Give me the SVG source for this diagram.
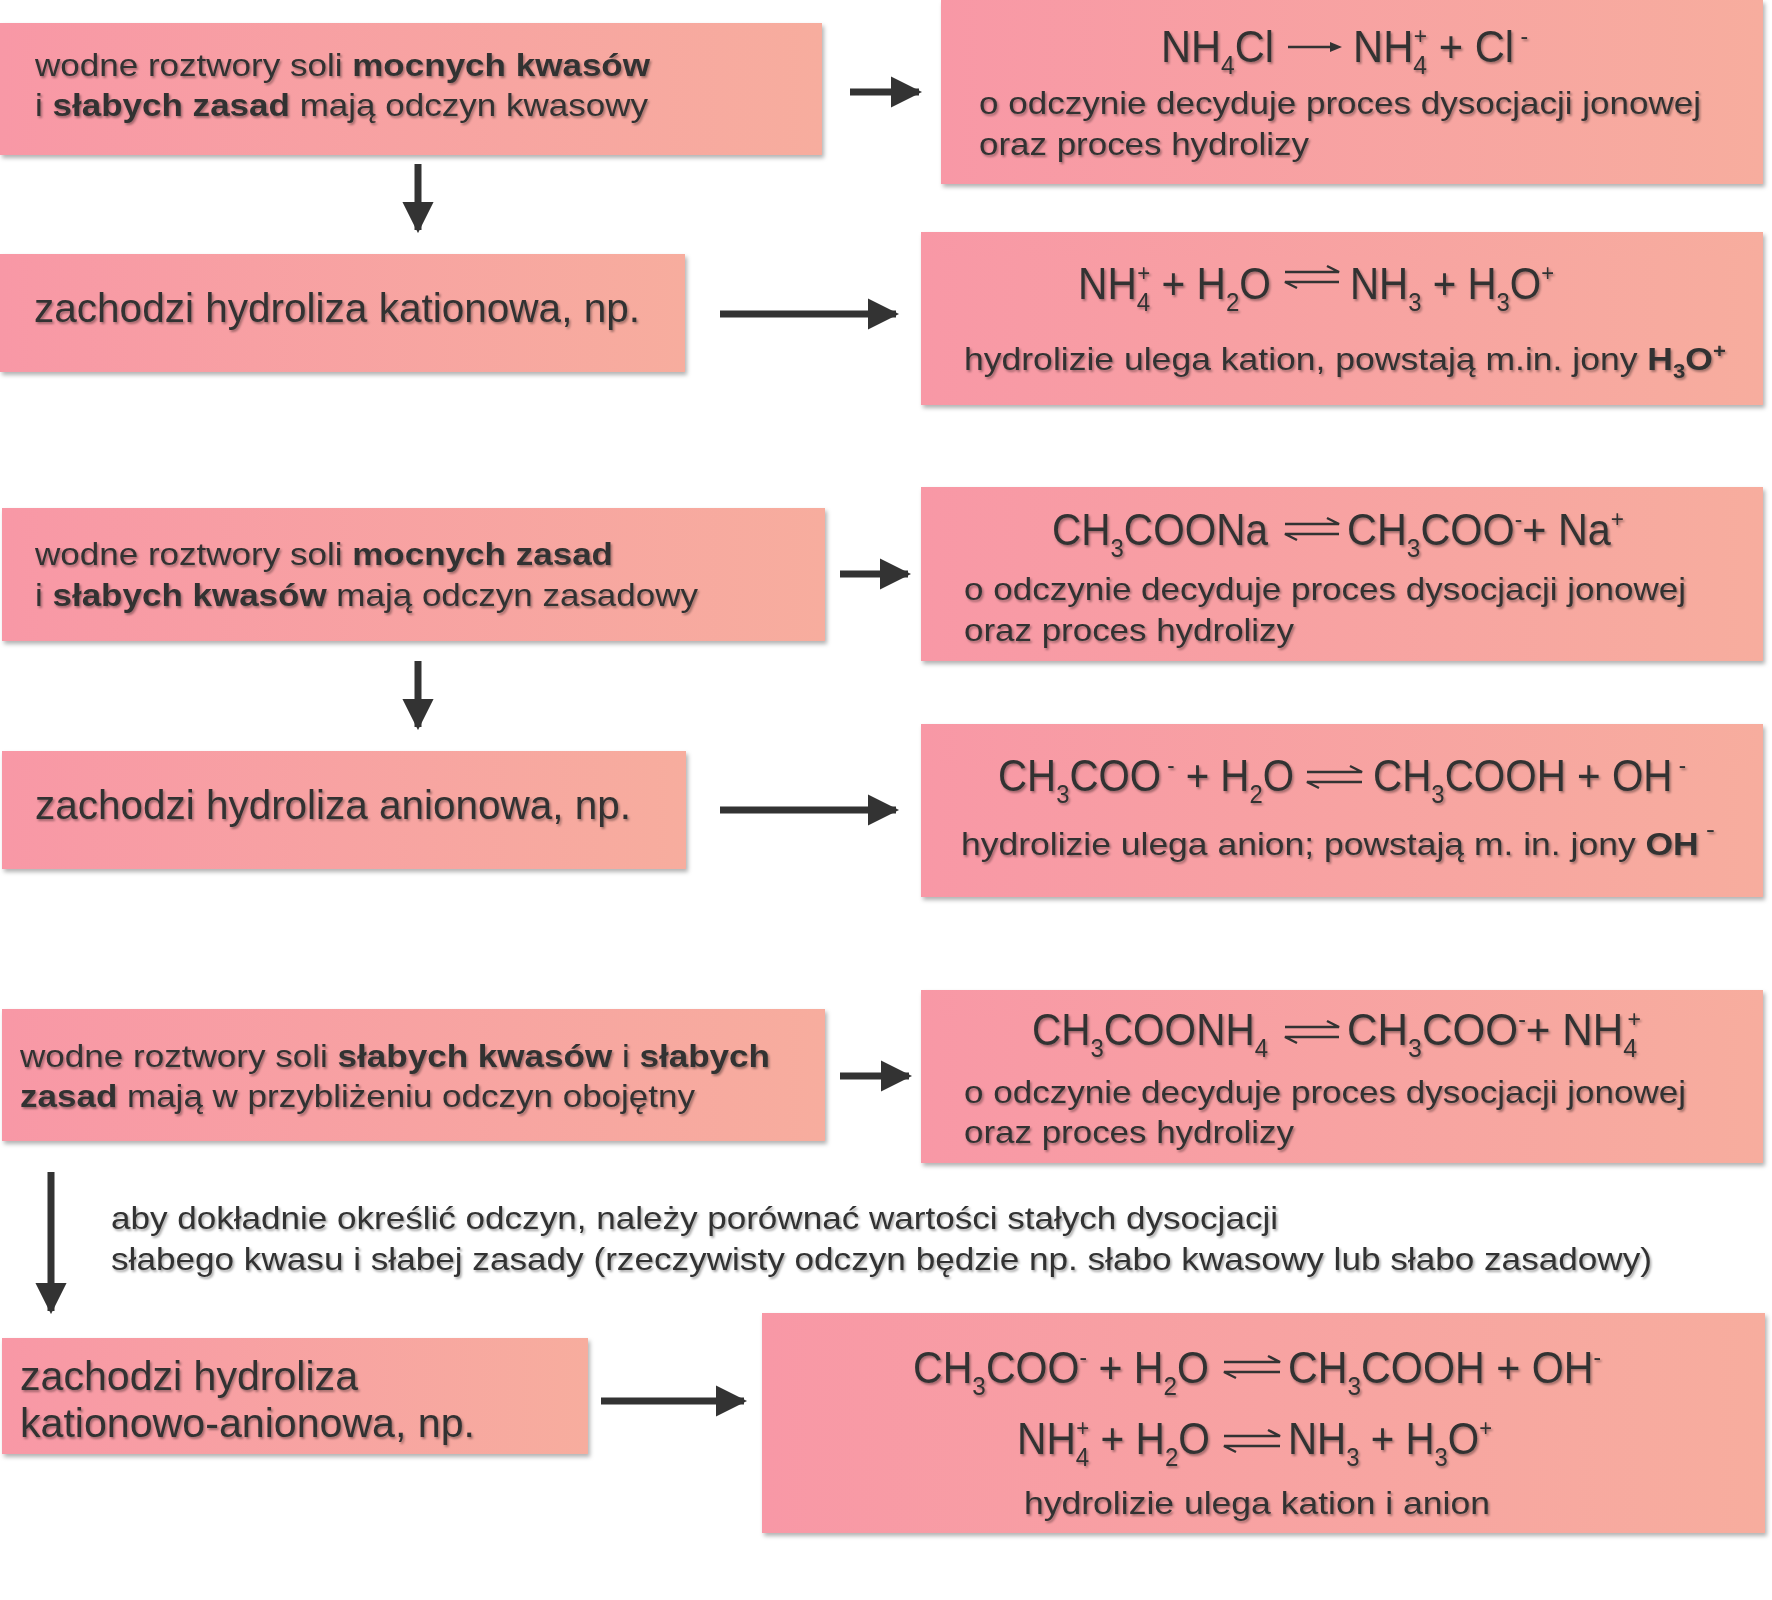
<svg xmlns="http://www.w3.org/2000/svg" width="1772" height="1600" viewBox="0 0 1772 1600">
<defs>
<linearGradient id="g" x1="0" x2="1" y1="0" y2="0"><stop offset="0" stop-color="#f898a6"/><stop offset="1" stop-color="#f7ad9e"/></linearGradient>
<filter id="sh" x="-2%" y="-5%" width="105%" height="115%"><feDropShadow dx="2" dy="3" stdDeviation="2" flood-color="#000" flood-opacity="0.3"/></filter>
<filter id="ts" x="-2%" y="-20%" width="105%" height="150%"><feDropShadow dx="1.5" dy="2" stdDeviation="1.2" flood-color="#000" flood-opacity="0.35"/></filter>
<marker id="ah" viewBox="0 0 10 10" refX="9" refY="5" markerWidth="4.5" markerHeight="5" orient="auto"><path d="M0,0 L10,5 L0,10 z" fill="#333"/></marker>
</defs>
<style>
.box{fill:url(#g);filter:url(#sh)}
text{font-family:"Liberation Sans Narrow","Liberation Sans",Arial,sans-serif;fill:#333;filter:url(#ts)}
.s{font-size:32px}.b{font-size:40px}.e{font-size:44px}
.sub{font-size:26px;baseline-shift:-12px}.sup{font-size:24px;baseline-shift:18px}
.bsub{font-size:20px;baseline-shift:-8px}.bsup{font-size:20px;baseline-shift:12px}
.bold{font-weight:bold}
.con{stroke:#333;stroke-width:7;fill:none}
.hp{stroke:#333;stroke-width:2.5;fill:none}
</style>
<g id="n1"><rect class="box" x="0" y="23" width="822" height="132"/>
<text class="s" x="35" y="76" textLength="615" lengthAdjust="spacingAndGlyphs">wodne roztwory soli <tspan class="bold">mocnych kwasów</tspan></text>
<text class="s" x="35" y="116" textLength="613" lengthAdjust="spacingAndGlyphs">i <tspan class="bold">słabych zasad</tspan> mają odczyn kwasowy</text></g>
<g id="n2"><rect class="box" x="941" y="0" width="822" height="184"/>
<text class="e" x="1161" y="62" textLength="113" lengthAdjust="spacingAndGlyphs">NH<tspan class="sub">4</tspan>Cl</text>
<path class="hp" d="M1288,47 H1334"/><path d="M1342,47 L1330,42 L1330,52 z" fill="#333"/>
<text class="e" x="1353" y="62" textLength="175" lengthAdjust="spacingAndGlyphs">NH<tspan class="sub">4</tspan><tspan class="sup" dx="-14">+</tspan> + Cl<tspan class="sup"> -</tspan></text>
<text class="s" x="979" y="114" textLength="722" lengthAdjust="spacingAndGlyphs">o odczynie decyduje proces dysocjacji jonowej</text>
<text class="s" x="979" y="155" textLength="330" lengthAdjust="spacingAndGlyphs">oraz proces hydrolizy</text></g>
<g id="n3"><rect class="box" x="0" y="254" width="685" height="118"/>
<text class="b" x="34" y="322" textLength="606" lengthAdjust="spacingAndGlyphs">zachodzi hydroliza kationowa, np.</text></g>
<g id="n4"><rect class="box" x="921" y="232" width="842" height="173"/>
<text class="e" x="1078" y="299" textLength="193" lengthAdjust="spacingAndGlyphs">NH<tspan class="sub">4</tspan><tspan class="sup" dx="-14">+</tspan> + H<tspan class="sub">2</tspan>O</text>
<path class="hp" d="M1285,272 H1339 L1327,266 M1339,282 H1285 L1297,288"/>
<text class="e" x="1350" y="299" textLength="204" lengthAdjust="spacingAndGlyphs">NH<tspan class="sub">3</tspan> + H<tspan class="sub">3</tspan>O<tspan class="sup">+</tspan></text>
<text class="s" x="964" y="370" textLength="762" lengthAdjust="spacingAndGlyphs">hydrolizie ulega kation, powstają m.in. jony <tspan class="bold">H<tspan class="bsub">3</tspan>O<tspan class="bsup">+</tspan></tspan></text></g>
<g id="n5"><rect class="box" x="2" y="508" width="823" height="133"/>
<text class="s" x="35" y="565" textLength="578" lengthAdjust="spacingAndGlyphs">wodne roztwory soli <tspan class="bold">mocnych zasad</tspan></text>
<text class="s" x="35" y="606" textLength="663" lengthAdjust="spacingAndGlyphs">i <tspan class="bold">słabych kwasów</tspan> mają odczyn zasadowy</text></g>
<g id="n6"><rect class="box" x="921" y="487" width="842" height="174"/>
<text class="e" x="1052" y="545" textLength="216" lengthAdjust="spacingAndGlyphs">CH<tspan class="sub">3</tspan>COONa</text>
<path class="hp" d="M1285,524 H1339 L1327,518 M1339,534 H1285 L1297,540"/>
<text class="e" x="1347" y="545" textLength="277" lengthAdjust="spacingAndGlyphs">CH<tspan class="sub">3</tspan>COO<tspan class="sup">-</tspan>+ Na<tspan class="sup">+</tspan></text>
<text class="s" x="964" y="600" textLength="722" lengthAdjust="spacingAndGlyphs">o odczynie decyduje proces dysocjacji jonowej</text>
<text class="s" x="964" y="641" textLength="330" lengthAdjust="spacingAndGlyphs">oraz proces hydrolizy</text></g>
<g id="n7"><rect class="box" x="2" y="751" width="684" height="118"/>
<text class="b" x="35" y="819" textLength="596" lengthAdjust="spacingAndGlyphs">zachodzi hydroliza anionowa, np.</text></g>
<g id="n8"><rect class="box" x="921" y="724" width="842" height="173"/>
<text class="e" x="998" y="791" textLength="296" lengthAdjust="spacingAndGlyphs">CH<tspan class="sub">3</tspan>COO<tspan class="sup"> -</tspan> + H<tspan class="sub">2</tspan>O</text>
<path class="hp" d="M1307,772 H1362 L1350,766 M1362,782 H1307 L1319,788"/>
<text class="e" x="1373" y="791" textLength="313" lengthAdjust="spacingAndGlyphs">CH<tspan class="sub">3</tspan>COOH + OH<tspan class="sup"> -</tspan></text>
<text class="s" x="961" y="855" textLength="754" lengthAdjust="spacingAndGlyphs">hydrolizie ulega anion; powstają m. in. jony <tspan class="bold">OH</tspan><tspan class="sup"> -</tspan></text></g>
<g id="n9"><rect class="box" x="2" y="1009" width="823" height="132"/>
<text class="s" x="20" y="1067" textLength="750" lengthAdjust="spacingAndGlyphs">wodne roztwory soli <tspan class="bold">słabych kwasów</tspan> i <tspan class="bold">słabych</tspan></text>
<text class="s" x="20" y="1107" textLength="675" lengthAdjust="spacingAndGlyphs"><tspan class="bold">zasad</tspan> mają w przybliżeniu odczyn obojętny</text></g>
<g id="n10"><rect class="box" x="921" y="990" width="842" height="173"/>
<text class="e" x="1032" y="1045" textLength="236" lengthAdjust="spacingAndGlyphs">CH<tspan class="sub">3</tspan>COONH<tspan class="sub">4</tspan></text>
<path class="hp" d="M1285,1027 H1339 L1327,1021 M1339,1037 H1285 L1297,1043"/>
<text class="e" x="1347" y="1045" textLength="294" lengthAdjust="spacingAndGlyphs">CH<tspan class="sub">3</tspan>COO<tspan class="sup">-</tspan>+ NH<tspan class="sub">4</tspan><tspan class="sup" dx="-10">+</tspan></text>
<text class="s" x="964" y="1103" textLength="722" lengthAdjust="spacingAndGlyphs">o odczynie decyduje proces dysocjacji jonowej</text>
<text class="s" x="964" y="1143" textLength="330" lengthAdjust="spacingAndGlyphs">oraz proces hydrolizy</text></g>
<g id="note">
<text class="s" x="111" y="1229" textLength="1167" lengthAdjust="spacingAndGlyphs">aby dokładnie określić odczyn, należy porównać wartości stałych dysocjacji</text>
<text class="s" x="111" y="1270" textLength="1541" lengthAdjust="spacingAndGlyphs">słabego kwasu i słabej zasady (rzeczywisty odczyn będzie np. słabo kwasowy  lub słabo zasadowy)</text></g>
<g id="n11"><rect class="box" x="2" y="1338" width="586" height="116"/>
<text class="b" x="20" y="1390" textLength="338" lengthAdjust="spacingAndGlyphs">zachodzi hydroliza</text>
<text class="b" x="20" y="1437" textLength="455" lengthAdjust="spacingAndGlyphs">kationowo-anionowa, np.</text></g>
<g id="n12"><rect class="box" x="762" y="1313" width="1003" height="220"/>
<text class="e" x="913" y="1383" textLength="296" lengthAdjust="spacingAndGlyphs">CH<tspan class="sub">3</tspan>COO<tspan class="sup">-</tspan> + H<tspan class="sub">2</tspan>O</text>
<path class="hp" d="M1224,1362 H1280 L1268,1356 M1280,1372 H1224 L1236,1378"/>
<text class="e" x="1288" y="1383" textLength="313" lengthAdjust="spacingAndGlyphs">CH<tspan class="sub">3</tspan>COOH + OH<tspan class="sup">-</tspan></text>
<text class="e" x="1017" y="1454" textLength="193" lengthAdjust="spacingAndGlyphs">NH<tspan class="sub">4</tspan><tspan class="sup" dx="-14">+</tspan> + H<tspan class="sub">2</tspan>O</text>
<path class="hp" d="M1224,1436 H1280 L1268,1430 M1280,1446 H1224 L1236,1452"/>
<text class="e" x="1288" y="1454" textLength="204" lengthAdjust="spacingAndGlyphs">NH<tspan class="sub">3</tspan> + H<tspan class="sub">3</tspan>O<tspan class="sup">+</tspan></text>
<text class="s" x="1024" y="1514" textLength="466" lengthAdjust="spacingAndGlyphs">hydrolizie ulega kation i anion</text></g>
<g id="connectors">
<path class="con" d="M850,92 H919" marker-end="url(#ah)"/>
<path class="con" d="M418,164 V230" marker-end="url(#ah)"/>
<path class="con" d="M720,314 H896" marker-end="url(#ah)"/>
<path class="con" d="M840,574 H908" marker-end="url(#ah)"/>
<path class="con" d="M418,661 V727" marker-end="url(#ah)"/>
<path class="con" d="M720,810 H896" marker-end="url(#ah)"/>
<path class="con" d="M840,1076 H909" marker-end="url(#ah)"/>
<path class="con" d="M51,1172 V1311" marker-end="url(#ah)"/>
<path class="con" d="M601,1401 H744" marker-end="url(#ah)"/>
</g>
</svg>
